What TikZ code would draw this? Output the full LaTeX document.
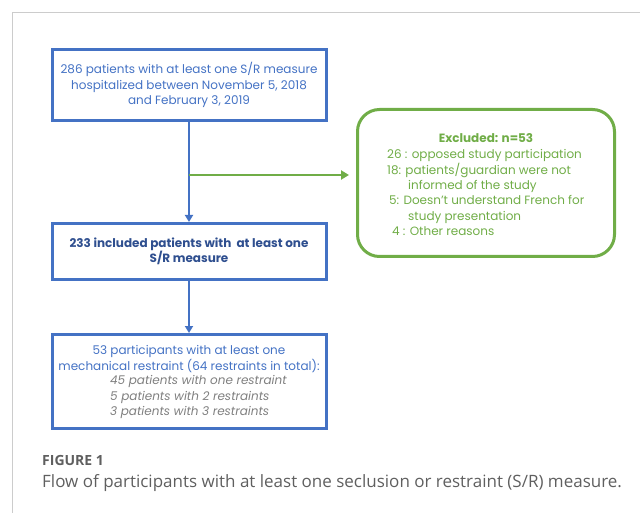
\documentclass[tikz,border=0pt]{standalone}
\usepackage{fontspec}
\usetikzlibrary{arrows.meta}
\newfontfamily\diagfont{Poppins}
\newfontfamily\capfont{Open Sans}
\definecolor{boxblue}{HTML}{4472C4}
\definecolor{darkblue}{HTML}{2F4F8F}
\definecolor{exgreen}{HTML}{70AD47}
\definecolor{itgray}{HTML}{7F7F7F}
\definecolor{capgray}{HTML}{5F5F5F}
\definecolor{framegray}{HTML}{CCCCCC}
\tikzset{
  bluebox/.style={draw=boxblue, line width=3pt, minimum width=274pt, inner sep=0pt},
  greenbox/.style={draw=exgreen, line width=3pt, rounded corners=22pt, minimum width=257pt, minimum height=147pt, inner sep=0pt},
  txt/.style={font=\diagfont\fontsize{12}{15.3}\selectfont, inner sep=0pt},
  bluearrow/.style={draw=boxblue, line width=2pt, -{Triangle[width=8pt,length=7pt]}},
  greenarrow/.style={draw=exgreen, line width=2.5pt, -{Triangle[width=9pt,length=8pt]}},
}
\begin{document}
\begin{tikzpicture}[x=1pt,y=-1pt]
\useasboundingbox (0,0) rectangle (640,513);
\draw[framegray, line width=1pt] (640,13) -- (12,13) -- (12,513);
\node[bluebox, minimum height=71pt, txt, text=boxblue, align=center] (box1) at (189,85)
  {286 patients with at least one S/R measure\\hospitalized between November 5, 2018\\and February 3, 2019};
\node[bluebox, minimum height=56pt, txt, text=darkblue, align=center, font=\diagfont\bfseries\fontsize{12}{15.3}\selectfont] (box2) at (189,251.5)
  {233 included patients with\ \ at least one\\S/R measure};
\node[bluebox, minimum height=94pt] (box3) at (189,381.5) {};
\node[txt, text=boxblue, align=center] (box3a) at (189,359)
  {53 participants with at least one\\mechanical restraint (64 restraints in total):};
\node[txt, text=itgray, align=left, anchor=west, font=\diagfont\itshape\fontsize{12}{15.3}\selectfont] (box3b) at (110,397)
  {45 patients with one restraint\\5 patients with 2 restraints\\3 patients with 3 restraints};
\node[greenbox] (ex) at (486,183) {};
\node[txt, text=exgreen, font=\diagfont\bfseries\fontsize{12}{15.3}\selectfont] (extitle) at (486,138) {Excluded: n=53};
\node[txt, text=exgreen, align=left, anchor=north west] (exbody) at (387,149.5)
  {26 : opposed study participation\\
   18: patients/guardian were not\\
   \hspace*{21pt}informed of the study\\
   \hspace*{2pt}5: Doesn’t understand French for\\
   \hspace*{21pt}study presentation\\
   \hspace*{5pt}4 : Other reasons};
\coordinate (br) at (box1.south |- 0,175);
\draw[bluearrow] (box1.south) -- (box2.north);
\draw[bluearrow] (box2.south) -- (box3.north);
\draw[greenarrow, shorten >=7pt] (br) -- (br -| ex.west);
\node[anchor=west, inner sep=0pt, text=capgray, font=\capfont\bfseries\fontsize{14}{16}\selectfont] (figlabel) at (42,460) {FIGURE 1};
\node[anchor=west, inner sep=0pt, text=capgray, font=\capfont\fontsize{17}{20}\selectfont] (caption) at (42,483)
  {Flow of participants with at least one seclusion or restraint (S/R) measure.};
\end{tikzpicture}
\end{document}
